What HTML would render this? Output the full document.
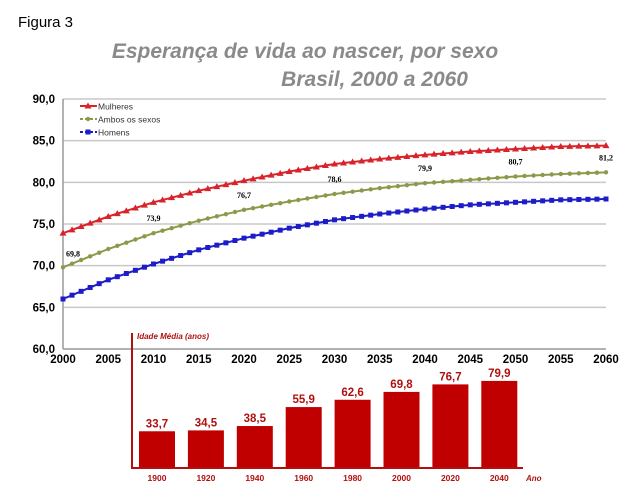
<!DOCTYPE html>
<html><head><meta charset="utf-8"><style>
body{margin:0;background:#fff;width:639px;height:497px;overflow:hidden;font-family:"Liberation Sans",sans-serif}
</style></head><body>
<svg width="639" height="497" xmlns="http://www.w3.org/2000/svg" font-family="Liberation Sans, sans-serif">
<text x="18" y="27" font-size="15">Figura 3</text>
<text x="305" y="58" font-size="21" font-weight="bold" font-style="italic" fill="#8a8a8a" text-anchor="middle">Esperança de vida ao nascer, por sexo</text>
<text x="468" y="86" font-size="21" font-weight="bold" font-style="italic" fill="#8a8a8a" text-anchor="end">Brasil, 2000 a 2060</text>
<g id="main"></g>
<g id="bars"></g>
</svg>
<script>
const years=[2000,2005,2010,2015,2020,2025,2030,2035,2040,2045,2050,2055,2060];
const mulheres=[73.9,75.9,77.6,79.0,80.2,81.3,82.2,82.8,83.3,83.7,84.0,84.3,84.4];
const ambos=[69.8,72.0,73.9,75.4,76.7,77.7,78.6,79.3,79.9,80.3,80.7,81.0,81.2];
const homens=[66.0,68.3,70.2,71.9,73.3,74.5,75.5,76.2,76.8,77.3,77.6,77.9,78.0];
const yTicks=[60,65,70,75,80,85,90];
const yTickLabels=["60,0","65,0","70,0","75,0","80,0","85,0","90,0"];
const ambosLabelYears=[2000,2010,2020,2030,2040,2050,2060];
const ambosLabels=["69,8","73,9","76,7","78,6","79,9","80,7","81,2"];
const barCats=["1900","1920","1940","1960","1980","2000","2020","2040"];
const barVals=[33.7,34.5,38.5,55.9,62.6,69.8,76.7,79.9];
const barLabels=["33,7","34,5","38,5","55,9","62,6","69,8","76,7","79,9"];

const NS="http://www.w3.org/2000/svg";
function mk(p,t,a){const e=document.createElementNS(NS,t);for(const k in a)e.setAttribute(k,a[k]);p.appendChild(e);return e;}
const X=v=>63+(v-2000)*(606-63)/60;
const Y=v=>349-(v-60)*(250/30);
const g=document.getElementById('main');
yTicks.forEach((t,i)=>{
 const l=mk(g,'line',{x1:63,x2:606,y1:Y(t),y2:Y(t),stroke:t==60?'#999':'#c8c8c8','stroke-width':1.5});
 
 
 const tx=mk(g,'text',{x:55,y:Y(t)+4,'font-size':11.5,'font-weight':'bold','text-anchor':'end'});tx.textContent=yTickLabels[i];
 
 
});
const ax=mk(g,'line',{x1:63,x2:63,y1:99,y2:349,stroke:'#999','stroke-width':1.5});


years.forEach(y=>{const tx=mk(g,'text',{x:X(y),y:363,'font-size':11.5,'font-weight':'bold','text-anchor':'middle'});tx.textContent=y;
 
 });
function series(vals,color,marker,name){
 const s=mk(g,'g',{});
 
 
 mk(s,'polyline',{points:vals.map((v,i)=>X(years[i])+','+Y(v)).join(' '),fill:'none',stroke:color,'stroke-width':2});
 for(let i=0;i<vals.length-1;i++){for(let k=0;k<5;k++){
  const yr=years[i]+k, v=vals[i]+(vals[i+1]-vals[i])*k/5; dot(s,X(yr),Y(v),color,marker);}}
 dot(s,X(years[years.length-1]),Y(vals[vals.length-1]),color,marker);
}
function dot(s,x,y,c,m){
 if(m=='tri')mk(s,'polygon',{points:`${x},${y-3.5} ${x-3.5},${y+2.5} ${x+3.5},${y+2.5}`,fill:c});
 else if(m=='sq')mk(s,'rect',{x:x-2.5,y:y-2.5,width:5,height:5,fill:c});
 else mk(s,'circle',{cx:x,cy:y,r:2.2,fill:c});
}
series(mulheres,'#d9232a','tri','series-mulheres');
series(ambos,'#8a9a4a','dot','series-ambos');
series(homens,'#1c1cc8','sq','series-homens');
ambosLabelYears.forEach((yr,i)=>{
 const idx=years.indexOf(yr);
 const off=i==0?-11:-9;
 const tx=mk(g,'text',{x:X(yr)+(i==0?10:0),y:Y(ambos[idx])+off-(i==0?0:3),'font-size':8,'font-weight':'bold','font-family':'Liberation Serif, serif','text-anchor':'middle'});
 tx.textContent=ambosLabels[i];
 
 
});
const legs=[['Mulheres','#d9232a','tri'],['Ambos os sexos','#8a9a4a','dot'],['Homens','#1c1cc8','sq']];
legs.forEach((L,i)=>{
 const lg=mk(g,'g',{});
 
 
 const y=106+i*13;
 mk(lg,'line',{x1:80,x2:97,y1:y,y2:y,stroke:L[1],'stroke-width':2,'stroke-dasharray':i?'3,2':''});
 dot(lg,88,y,L[1],L[2]);
 const tx=mk(lg,'text',{x:98,y:y+3.5,'font-size':8.5,fill:'#333'});tx.textContent=L[0];
});
// inset bar chart
const b=document.getElementById('bars');
const bg=mk(b,'rect',{x:125,y:366,width:405,height:131,fill:'#fff'});


const base=468;
const BX=i=>139+i*48.9;
const BH=v=>v*1.09;
barVals.forEach((v,i)=>{
 const r=mk(b,'rect',{x:BX(i),y:base-BH(v),width:36,height:BH(v),fill:'#c00000'});
 
 
 const t=mk(b,'text',{x:BX(i)+18,y:base-BH(v)-4,'font-size':11.5,'font-weight':'bold',fill:'#b01010','text-anchor':'middle'});t.textContent=barLabels[i];
 
 
 const c=mk(b,'text',{x:BX(i)+18,y:481,'font-size':8.5,'font-weight':'bold',fill:'#b01010','text-anchor':'middle'});c.textContent=barCats[i];
 
 
});
const va=mk(b,'line',{x1:132,x2:132,y1:333,y2:469,stroke:'#b01010','stroke-width':2});


const ha=mk(b,'line',{x1:131,x2:523,y1:468,y2:468,stroke:'#b01010','stroke-width':2});


const it=mk(b,'text',{x:137,y:339,'font-size':8,'font-weight':'bold','font-style':'italic',fill:'#b01010'});it.textContent='Idade Média (anos)';


const an=mk(b,'text',{x:526,y:481,'font-size':8,'font-weight':'bold','font-style':'italic',fill:'#b01010'});an.textContent='Ano';


</script>
</body></html>
